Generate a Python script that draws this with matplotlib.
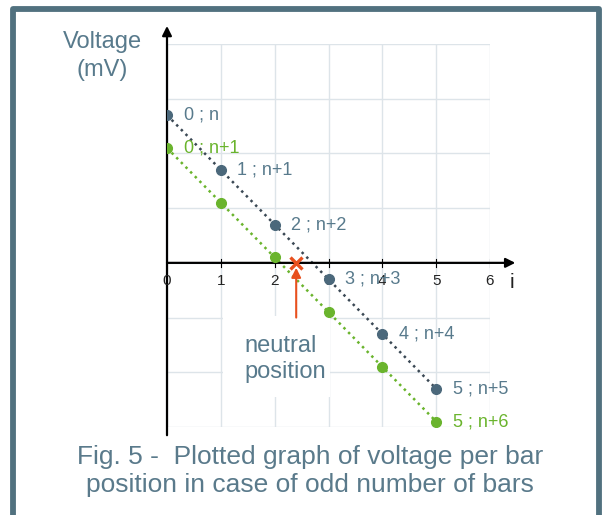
import matplotlib
matplotlib.use("Agg")
import matplotlib.pyplot as plt
from matplotlib.patches import Rectangle

plt.rcParams["font.family"] = ["Liberation Sans", "DejaVu Sans"]

# -----------------------
# Data
# -----------------------
positions = [0, 1, 2, 3, 4, 5]
volt_odd = [2.7, 1.7, 0.7, -0.3, -1.3, -2.3]
volt_even = [2.1, 1.1, 0.1, -0.9, -1.9, -2.9]
labels_odd = ["0 ; n", "1 ; n+1", "2 ; n+2", "3 ; n+3", "4 ; n+4", "5 ; n+5"]
labels_even = {0: "0 ; n+1", 5: "5 ; n+6"}
neutral_x = 2.4
x_ticks = [0, 1, 2, 3, 4, 5, 6]
y_grid = [-3, -2, -1, 0, 1, 2, 3, 4]

BLUE = "#4b687b"
BLUE_TXT = "#587a8c"
BLUE_LINE = "#3a4854"
GREEN = "#6ab42d"
ORANGE = "#e8501e"
GRID = "#dde4e9"
CAPTION = "#5a7a8b"

# -----------------------
# Figure / axes
# -----------------------
fig = plt.figure(figsize=(6.06, 5.15), dpi=100, facecolor="white")
W, H = 606, 515
ax = fig.add_axes([167 / W, (H - 427) / H, 323 / W, 383 / H])
ax.set_xlim(0, 6)
ax.set_ylim(-3, 4)
ax.set_xticks(x_ticks)
ax.set_yticks(y_grid)
ax.tick_params(length=0, labelbottom=False, labelleft=False)
for s in ax.spines.values():
    s.set_visible(False)
ax.set_axisbelow(True)
ax.grid(True, color=GRID, lw=1)

# white box behind the "neutral position" text
ax.add_patch(Rectangle((1.04, -2.45), 1.99, 1.48, facecolor="white",
                       edgecolor="none", zorder=1))

# axes with arrows
ax.annotate("", xy=(0, 4.33), xytext=(0, -3.15),
            arrowprops=dict(arrowstyle="-|>", color="black", lw=1.6,
                            mutation_scale=14, shrinkA=0, shrinkB=0),
            annotation_clip=False, zorder=3)
ax.annotate("", xy=(6.47, 0), xytext=(0, 0),
            arrowprops=dict(arrowstyle="-|>", color="black", lw=1.6,
                            mutation_scale=14, shrinkA=0, shrinkB=0),
            annotation_clip=False, zorder=3)
for t in x_ticks[1:]:
    ax.plot([t, t], [-0.07, 0.07], color="black", lw=0.8, zorder=3)
for t in x_ticks:
    ax.text(t, -0.33, str(t), ha="center", va="center", fontsize=11,
            color="#222222", zorder=3)
ax.text(6.41, -0.36, "i", ha="center", va="center", fontsize=15,
        color="#222222")

# dotted lines and points
ax.plot(positions, volt_odd, ls=":", color=BLUE_LINE, lw=1.8, zorder=2)
ax.plot(positions, volt_even, ls=":", color=GREEN, lw=1.8, zorder=2)
ax.plot(positions, volt_odd, "o", color=BLUE, ms=7, zorder=4)
ax.plot(positions, volt_even, "o", color=GREEN, ms=7, zorder=4)

for x, y, lab in zip(positions, volt_odd, labels_odd):
    ax.annotate(lab, (x, y), xytext=(12, 0), textcoords="offset points",
                va="center", ha="left", fontsize=13, color=BLUE_TXT, zorder=5)
for i, lab in labels_even.items():
    ax.annotate(lab, (positions[i], volt_even[i]), xytext=(12, 0),
                textcoords="offset points", va="center", ha="left",
                fontsize=13, color=GREEN, zorder=5)

# neutral position marker and arrow
ax.plot([neutral_x], [0], marker="x", color=ORANGE, ms=8, mew=2.4, zorder=6)
ax.annotate("", xy=(neutral_x, -0.09), xytext=(neutral_x, -1.0),
            arrowprops=dict(arrowstyle="-|>", color=ORANGE, lw=1.5,
                            mutation_scale=14, shrinkA=0, shrinkB=0),
            zorder=6)
ax.text(1.43, -1.755, "neutral\nposition", ha="left", va="center",
        fontsize=17, color=BLUE_TXT, linespacing=1.2, zorder=5)

# -----------------------
# Figure texts and frame
# -----------------------
fig.text(102 / W, (H - 56) / H, "Voltage\n(mV)", ha="center", va="center",
         fontsize=17, color=BLUE_TXT, linespacing=1.35)
fig.text(310 / W, (H - 471) / H,
         "Fig. 5 -  Plotted graph of voltage per bar\n"
         "position in case of odd number of bars",
         ha="center", va="center", fontsize=19, color=CAPTION, linespacing=1.2)

fig.patches.append(Rectangle((12.5 / W, -0.02), 586.5 / W, (H - 8.5) / H + 0.02,
                             transform=fig.transFigure, fill=False,
                             edgecolor="#51717f", lw=4.2, joinstyle="round"))

fig.savefig("out.png", dpi=100, facecolor="white")
plt.close(fig)
